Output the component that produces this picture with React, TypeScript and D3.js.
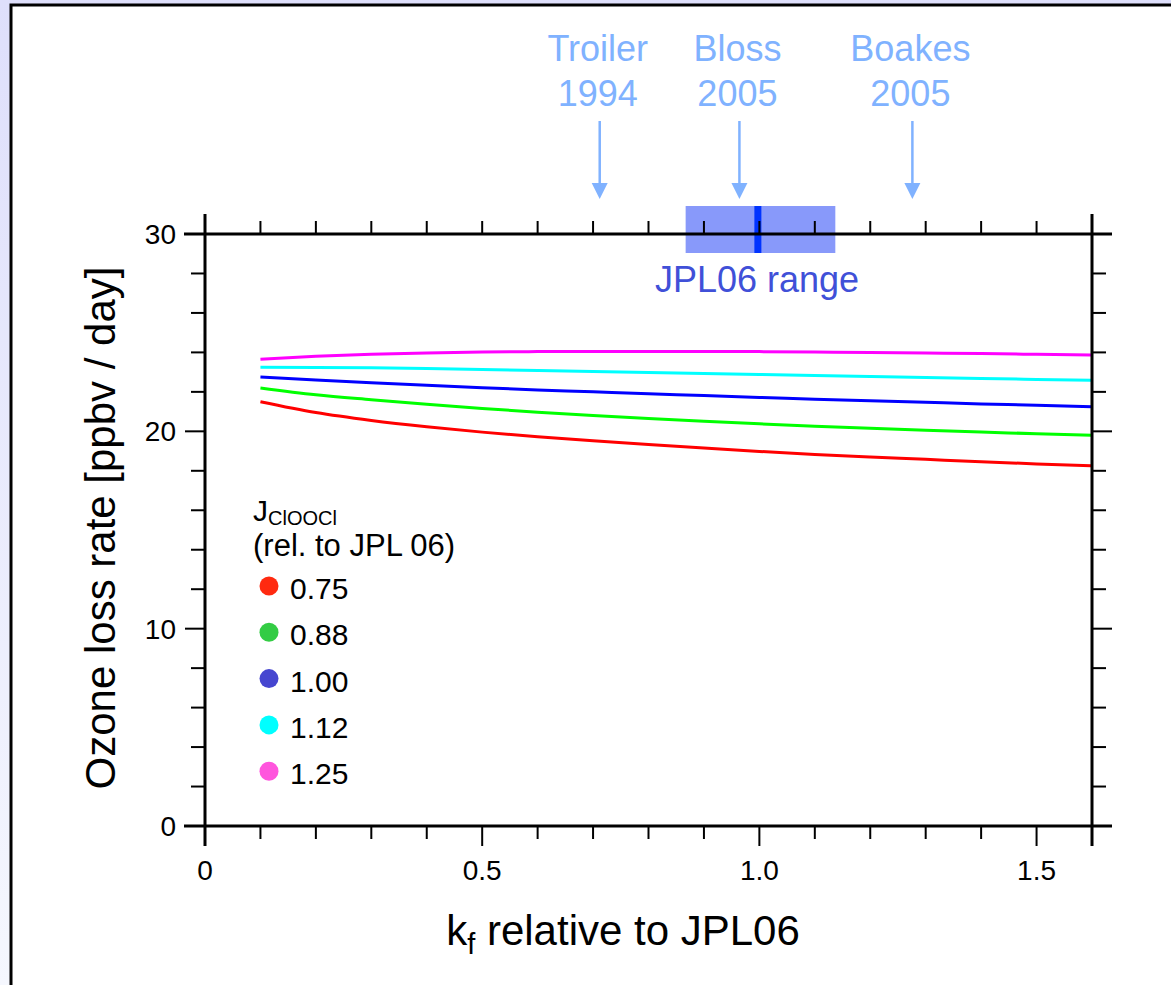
import React from "react";
import * as d3 from "d3";

const kf = [0.1, 0.2, 0.3, 0.4, 0.5, 0.6, 0.7, 0.8, 0.9, 1.0, 1.1, 1.2, 1.3, 1.4, 1.5, 1.6];
const s075 = [21.5, 20.95, 20.55, 20.23, 19.96, 19.73, 19.52, 19.33, 19.15, 18.98, 18.83, 18.7, 18.58, 18.46, 18.35, 18.25];
const s088 = [22.2, 21.85, 21.6, 21.37, 21.16, 20.97, 20.8, 20.65, 20.51, 20.38, 20.26, 20.15, 20.05, 19.96, 19.88, 19.8];
const s100 = [22.75, 22.6, 22.46, 22.33, 22.21, 22.1, 22.0, 21.9, 21.81, 21.72, 21.63, 21.55, 21.47, 21.39, 21.32, 21.25];
const s112 = [23.25, 23.24, 23.22, 23.18, 23.13, 23.08, 23.03, 22.98, 22.93, 22.88, 22.83, 22.78, 22.73, 22.68, 22.63, 22.59];
const s125 = [23.65, 23.8, 23.9, 23.97, 24.02, 24.04, 24.05, 24.05, 24.05, 24.04, 24.02, 24.0, 23.97, 23.94, 23.9, 23.87];

const seriesLabels = ["0.75", "0.88", "1.00", "1.12", "1.25"];
const seriesValues = [s075, s088, s100, s112, s125];
const lineColors = ["#ff0000", "#00ff00", "#0000ff", "#00ffff", "#ff00ff"];
const dotColors = ["#ff2a10", "#33cc44", "#4646d0", "#00ffff", "#ff55dd"];

const xTickLabels = [0, 0.5, 1.0, 1.5];
const xTickText = ["0", "0.5", "1.0", "1.5"];
const yTickLabels = [0, 10, 20, 30];

const refNames = [["Troiler", "1994"], ["Bloss", "2005"], ["Boakes", "2005"]];
const refX = [0.712, 0.964, 1.276];
const jplRange = [0.867, 1.137];
const jplCenter = 1.0;

const FONT = "'Liberation Sans', Arial, Helvetica, sans-serif";

export default function App() {
  const W = 1171, H = 985;
  const x = d3.scaleLinear().domain([0, 1.6]).range([205, 1092]);
  const y = d3.scaleLinear().domain([0, 30]).range([826, 234]);
  const line = d3
    .line<number>()
    .x((_, i) => x(kf[i]))
    .y((d) => y(d))
    .curve(d3.curveMonotoneX);

  const xMinor = d3.range(1, 16).map((i) => i / 10);
  const yMinor = d3.range(1, 15).map((i) => i * 2);
  const isMajorX = (v: number) => Math.abs(v * 2 - Math.round(v * 2)) < 1e-6;
  const isMajorY = (v: number) => v % 10 === 0;

  const x0 = x(0), x1 = x(1.6), y0 = y(0), y1 = y(30);
  const refColor = "#80b2ff";

  return (
    <svg width={W} height={H} style={{ position: "absolute", left: 0, top: 0 }} fontFamily={FONT}>
      <defs>
        <linearGradient id="bg" x1="0" y1="0" x2="0" y2="1">
          <stop offset="0" stopColor="#dedffb" />
          <stop offset="1" stopColor="#f5f7fe" />
        </linearGradient>
      </defs>
      <rect x={0} y={0} width={W} height={H} fill="url(#bg)" />
      <rect x={11} y={5} width={W + 20} height={H + 20} fill="#ffffff" stroke="#000" strokeWidth={3} />

      {/* JPL06 range box */}
      <rect x={x(jplRange[0])} y={206} width={x(jplRange[1]) - x(jplRange[0])} height={47} fill="#8899fa" />
      <rect x={x(jplCenter) - 5} y={206} width={7} height={47} fill="#0033ff" />
      <text x={757} y={292} textAnchor="middle" fontSize={36} fill="#4050d8">JPL06 range</text>

      {/* reference arrows */}
      {refNames.map((nm, i) => {
        const cx = x(refX[i]);
        return (
          <g key={i} fill={refColor}>
            <text x={cx - 2} y={61} textAnchor="middle" fontSize={36}>{nm[0]}</text>
            <text x={cx - 2} y={106} textAnchor="middle" fontSize={36}>{nm[1]}</text>
            <line x1={cx} x2={cx} y1={121} y2={186} stroke={refColor} strokeWidth={2.5} />
            <path d={`M${cx - 8},183 L${cx + 8},183 L${cx},199 Z`} />
          </g>
        );
      })}

      {/* data lines */}
      {seriesValues.map((vals, i) => (
        <path key={i} d={line(vals) || ""} fill="none" stroke={lineColors[i]} strokeWidth={3} />
      ))}

      {/* ticks */}
      <g stroke="#000" strokeWidth={2}>
        {xMinor.map((v) => (
          <g key={"x" + v}>
            <line x1={x(v)} x2={x(v)} y1={y0} y2={y0 + (isMajorX(v) ? 20 : 13)} />
            <line x1={x(v)} x2={x(v)} y1={y1} y2={y1 - 13} />
          </g>
        ))}
        {yMinor.map((v) => (
          <g key={"y" + v}>
            <line x1={x0} x2={x0 - (isMajorY(v) ? 20 : 14)} y1={y(v)} y2={y(v)} />
            <line x1={x1} x2={x1 + (isMajorY(v) ? 20 : 14)} y1={y(v)} y2={y(v)} />
          </g>
        ))}
      </g>

      {/* frame */}
      <g stroke="#000" strokeWidth={3}>
        <line x1={x0 - 21} x2={x1 + 20} y1={y0} y2={y0} />
        <line x1={x0 - 21} x2={x1 + 20} y1={y1} y2={y1} />
        <line x1={x0} x2={x0} y1={y1 - 20} y2={y0 + 20} />
        <line x1={x1} x2={x1} y1={y1 - 20} y2={y0 + 20} />
      </g>

      {/* tick labels */}
      {xTickLabels.map((v, i) => (
        <text key={"xl" + v} x={x(v)} y={880} textAnchor="middle" fontSize={28} fill="#000">{xTickText[i]}</text>
      ))}
      {yTickLabels.map((v) => (
        <text key={"yl" + v} x={176} y={y(v) + 10} textAnchor="end" fontSize={28} fill="#000">{v}</text>
      ))}

      {/* axis titles */}
      <text x={623} y={945} textAnchor="middle" fontSize={42} fill="#000">
        k<tspan fontSize={29} dy={9}>f</tspan><tspan dy={-9}> relative to JPL06</tspan>
      </text>
      <text transform="translate(115,528) rotate(-90)" textAnchor="middle" fontSize={42} fill="#000">
        Ozone loss rate [ppbv / day]
      </text>

      {/* legend */}
      <text x={253} y={521} fontSize={30} fill="#000">
        J<tspan fontSize={20} dy={4}>ClOOCl</tspan>
      </text>
      <text x={253} y={556} fontSize={31} fill="#000">(rel. to JPL 06)</text>
      {seriesLabels.map((lab, i) => {
        const cy = 586 + i * 46.3;
        return (
          <g key={lab}>
            <circle cx={269} cy={cy} r={9.5} fill={dotColors[i]} />
            <text x={290} y={cy + 13} fontSize={30} fill="#000">{lab}</text>
          </g>
        );
      })}
    </svg>
  );
}
